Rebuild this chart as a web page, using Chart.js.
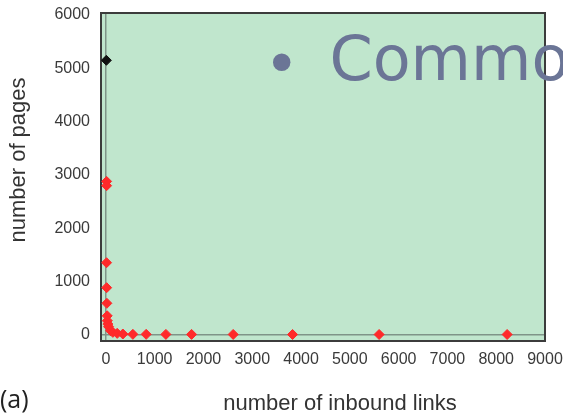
<!DOCTYPE html>
<html>
<head>
<meta charset="utf-8">
<script src="https://cdn.jsdelivr.net/npm/chart.js@4/dist/chart.umd.min.js"></script>
<style>
  body { margin: 0; background: #fff; }
  #wrap { position: relative; width: 563px; height: 417px; overflow: hidden; }
  #slideText {
    position: absolute; left: 270px; top: 22px; white-space: nowrap;
    font-family: "DejaVu Sans", sans-serif; font-size: 62px; color: #6b7596;
  }
  #slideText .dot { position: relative; left: -6px; top: 5px; font-size: 60px; margin-right: 24px; }
  #panel {
    position: absolute; left: 0px; top: 381px;
    font-family: "Open Sans", "DejaVu Sans", sans-serif; font-size: 25px; color: #222;
  }
</style>
</head>
<body>
<div id="wrap">
  <canvas id="chart" width="563" height="417"></canvas>
  <div id="slideText"><span class="dot">•</span>Common</div>
  <div id="panel">(a)</div>
</div>
<script>
// degree distribution: pages vs inbound links

const topSiteX = [10];
const topSiteY = [5150];

const linksX = [15, 15, 14, 16, 20, 27, 30, 41, 55, 96, 143, 232, 348, 553, 826, 1230, 1756, 2609, 3826, 5600, 8224];
const pagesY = [2880, 2800, 1356, 888, 595, 360, 268, 206, 156, 81, 50, 31, 19, 13, 13, 12, 12, 11, 10, 10, 10];

const xTicks = [0, 1000, 2000, 3000, 4000, 5000, 6000, 7000, 8000, 9000];
const yTicks = [0, 1000, 2000, 3000, 4000, 5000, 6000];

const xTitle = "number of inbound links";
const yTitle = "number of pages";

const toPoints = (xs, ys) => xs.map((x, i) => ({ x, y: ys[i] }));

const plotStyle = {
  id: "plotStyle",
  beforeDraw(chart) {
    const { ctx, chartArea: a } = chart;
    ctx.save();
    ctx.fillStyle = "#c0e6cd";
    ctx.fillRect(a.left, a.top, a.right - a.left, a.bottom - a.top);
    ctx.restore();
  },
  beforeDatasetsDraw(chart) {
    const { ctx, chartArea: a } = chart;
    ctx.save();
    ctx.strokeStyle = "#3c3c3c";
    ctx.lineWidth = 2;
    ctx.strokeRect(a.left, a.top, a.right - a.left, a.bottom - a.top);
    ctx.restore();
  },
  afterDraw(chart) {
    const { ctx } = chart;
    ctx.save();
    ctx.fillStyle = "#333";
    ctx.font = "22px 'Liberation Sans', Arial, sans-serif";
    ctx.textAlign = "center";
    ctx.textBaseline = "middle";
    ctx.fillText(xTitle, 340, 404);
    ctx.translate(19, 160);
    ctx.rotate(-Math.PI / 2);
    ctx.fillText(yTitle, 0, 0);
    ctx.restore();
  }
};

const zeroGrid = ctx => (ctx.tick && ctx.tick.value === 0 ? "#7f9488" : "rgba(0,0,0,0)");
const plain = v => String(v);

new Chart(document.getElementById("chart"), {
  type: "scatter",
  data: {
    datasets: [
      {
        label: "top site",
        data: toPoints(topSiteX, topSiteY),
        pointStyle: "rectRot",
        pointRadius: 5,
        backgroundColor: "#111",
        borderColor: "#111"
      },
      {
        label: "pages",
        data: toPoints(linksX, pagesY),
        pointStyle: "rectRot",
        pointRadius: 5,
        backgroundColor: "#ff2a2a",
        borderColor: "#ff2a2a"
      }
    ]
  },
  options: {
    responsive: false,
    animation: false,
    layout: { padding: { top: 13, right: 18, left: 0, bottom: 0 } },
    plugins: { legend: { display: false }, tooltip: { enabled: false } },
    scales: {
      x: {
        type: "linear",
        min: -100,
        max: 9000,
        afterFit: s => { s.height = 76; s.paddingLeft = 0; s.paddingRight = 0; },
        afterBuildTicks: s => { s.ticks = xTicks.map(v => ({ value: v })); },
        border: { display: false },
        grid: { color: zeroGrid, lineWidth: 1.5, drawTicks: false },
        ticks: {
          padding: 9,
          maxRotation: 0,
          autoSkip: false,
          callback: plain,
          color: "#3a3a3a",
          font: { family: "'Liberation Sans', Arial, sans-serif", size: 16 }
        }
      },
      y: {
        type: "linear",
        min: -112,
        max: 6037,
        afterFit: s => { s.width = 101; s.paddingTop = 0; s.paddingBottom = 0; },
        afterBuildTicks: s => { s.ticks = yTicks.map(v => ({ value: v })); },
        border: { display: false },
        grid: { color: zeroGrid, lineWidth: 1.5, drawTicks: false },
        ticks: {
          padding: 11,
          autoSkip: false,
          callback: plain,
          color: "#3a3a3a",
          font: { family: "'Liberation Sans', Arial, sans-serif", size: 16 }
        }
      }
    }
  },
  plugins: [plotStyle]
});
</script>
</body>
</html>
